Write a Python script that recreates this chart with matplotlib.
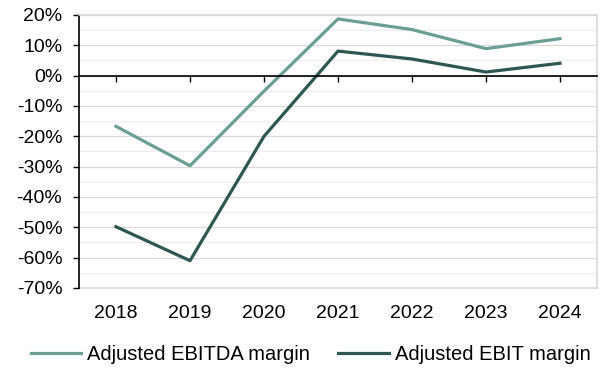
import matplotlib.pyplot as plt
from matplotlib.ticker import MultipleLocator, PercentFormatter

plt.rcParams['font.family'] = ['Liberation Sans', 'DejaVu Sans']
plt.rcParams['axes.unicode_minus'] = False

years = ["2018", "2019", "2020", "2021", "2022", "2023", "2024"]
ebitda_margin = [-16.7, -29.7, -5.1, 18.7, 15.2, 8.9, 12.2]
ebit_margin = [-49.8, -61.0, -20.0, 8.1, 5.5, 1.2, 4.1]

fs = 14
x = range(len(years))

fig = plt.figure(figsize=(6, 3.71), dpi=100)
ax = fig.add_axes([79/600, 1-288/371, (597-79)/600, (288-15)/371])

l1, = ax.plot(x, ebitda_margin, color="#6a9f91", lw=2.3, label="Adjusted EBITDA margin")
l2, = ax.plot(x, ebit_margin, color="#2e5751", lw=2.3, label="Adjusted EBIT margin")

ax.set_xlim(-0.5, 6.5)
ax.set_ylim(-70, 20)
ax.yaxis.set_major_locator(MultipleLocator(10))
ax.yaxis.set_minor_locator(MultipleLocator(5))
ax.yaxis.set_major_formatter(PercentFormatter(decimals=0))
ax.grid(axis="y", which="major", color="#d9d9d9", lw=0.9)
ax.grid(axis="y", which="minor", color="#eeeeee", lw=0.9)
ax.set_axisbelow(True)
ax.tick_params(axis="y", which="major", direction="out", length=4, width=1, labelsize=fs, pad=8)
ax.tick_params(axis="y", which="minor", length=0)

# zero line with category ticks
ax.spines["bottom"].set_position(("data", 0))
ax.spines["bottom"].set_color("black")
ax.spines["bottom"].set_linewidth(1.2)
ax.set_xticks(list(x))
ax.tick_params(axis="x", direction="out", length=4, width=1, labelbottom=False)
ax.spines["left"].set_color("black")
ax.spines["left"].set_linewidth(1.2)
for s in ["top", "right"]:
    ax.spines[s].set_color("#d9d9d9")
    ax.spines[s].set_linewidth(1.2)

sec = ax.secondary_xaxis(0.0)
sec.set_xticks(list(x))
sec.set_xticklabels(years)
sec.tick_params(length=0, labelsize=fs, pad=12)
sec.spines["bottom"].set_color("#d9d9d9")
sec.spines["bottom"].set_linewidth(1.2)

fig.legend(handles=[l1, l2], loc="center", bbox_to_anchor=(0.518, 1-355/371),
           ncol=2, frameon=False, fontsize=14.5, handlelength=2.5,
           handletextpad=0.3, columnspacing=1.4)

fig.savefig("out.png", dpi=100)
plt.close(fig)
